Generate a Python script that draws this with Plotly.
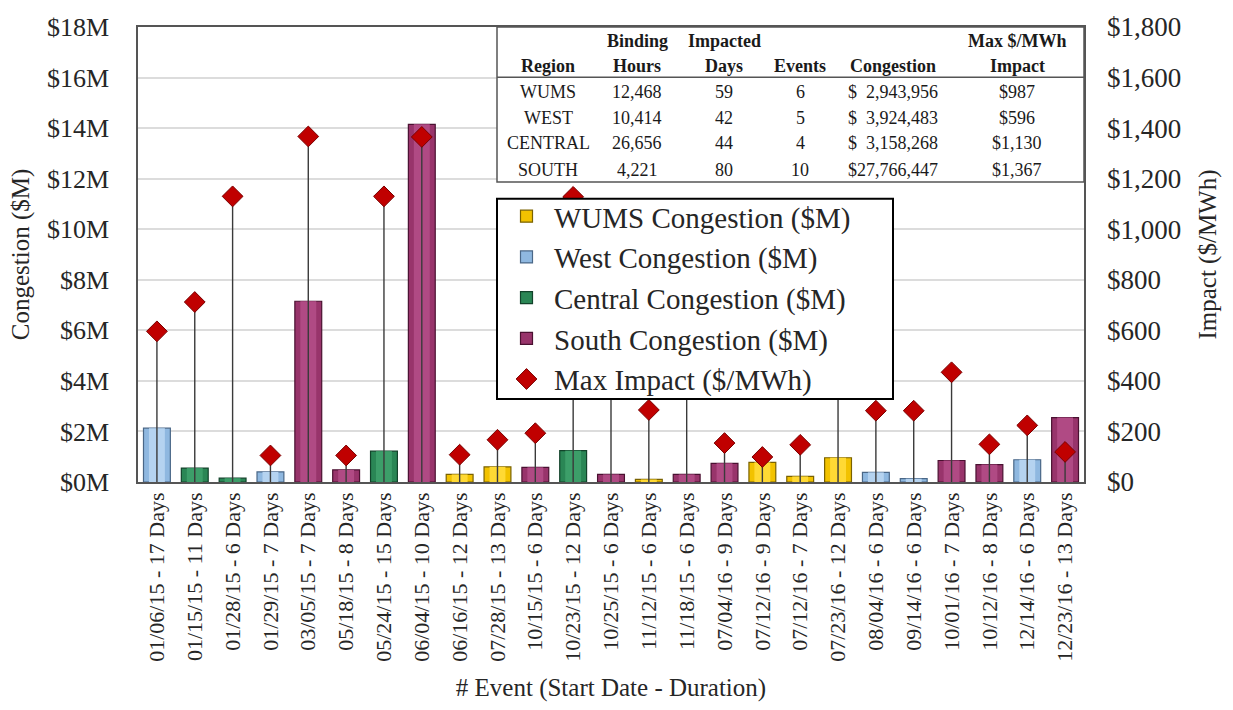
import plotly.graph_objects as go

# Congestion events: start date and duration
events = [
    "01/06/15 - 17 Days", "01/15/15 - 11 Days", "01/28/15 - 6 Days", "01/29/15 - 7 Days",
    "03/05/15 - 7 Days", "05/18/15 - 8 Days", "05/24/15 - 15 Days", "06/04/15 - 10 Days",
    "06/16/15 - 12 Days", "07/28/15 - 13 Days", "10/15/15 - 6 Days", "10/23/15 - 12 Days",
    "10/25/15 - 6 Days", "11/12/15 - 6 Days", "11/18/15 - 6 Days", "07/04/16 - 9 Days",
    "07/12/16 - 9 Days", "07/12/16 - 7 Days", "07/23/16 - 12 Days", "08/04/16 - 6 Days",
    "09/14/16 - 6 Days", "10/01/16 - 7 Days", "10/12/16 - 8 Days", "12/14/16 - 6 Days",
    "12/23/16 - 13 Days",
]
event_region = [
    "West", "Central", "Central", "West", "South", "South", "Central", "South",
    "WUMS", "WUMS", "South", "Central", "South", "WUMS", "South", "South",
    "WUMS", "WUMS", "WUMS", "West", "West", "South", "South", "West", "South",
]
# Congestion per event ($M)
congestion_m = [
    2.13, 0.55, 0.15, 0.40, 7.15, 0.48, 1.22, 14.15,
    0.30, 0.60, 0.58, 1.24, 0.30, 0.10, 0.30, 0.74,
    0.78, 0.22, 0.96, 0.38, 0.13, 0.85, 0.69, 0.88, 2.55,
]
# Max impact per event ($/MWh)
max_impact = [
    596, 712, 1130, 105, 1367, 105, 1130, 1365,
    108, 167, 193, 1128, 760, 285, 540, 154,
    99, 147, 987, 282, 282, 434, 149, 224, 119,
]

# Summary table
tbl_header_top = ["", "Binding", "Impacted", "", "", "Max $/MWh"]
tbl_header_bottom = ["Region", "Hours", "Days", "Events", "Congestion", "Impact"]
tbl_region = ["WUMS", "WEST", "CENTRAL", "SOUTH"]
tbl_hours = ["12,468", "10,414", "26,656", "4,221"]
tbl_days = ["59", "42", "44", "80"]
tbl_events = ["6", "5", "4", "10"]
tbl_congestion = ["$  2,943,956", "$  3,924,483", "$  3,158,268", "$27,766,447"]
tbl_impact = ["$987", "$596", "$1,130", "$1,367"]

regions = ["WUMS", "West", "Central", "South"]
colors = {"WUMS": "#F2C200", "West": "#8FB8E0", "Central": "#2A8655", "South": "#98346B"}
highlights = {"WUMS": "#FFD934", "West": "#B5D3F0", "Central": "#3C9E69", "South": "#B04A84"}
edges = {"WUMS": "#7A6200", "West": "#4A6787", "Central": "#12422A", "South": "#4A1131"}

FONT = "Liberation Serif"
TXT = "#262626"

# Plot area in pixels (figure is 1233 x 710)
PL, PR, PT, PB = 138, 1084, 21, 482


def px_x(x):
    return (x - PL) / (PR - PL)


def px_y(y):
    return (PB - y) / (PB - PT)


fig = go.Figure()

for r in regions:
    ys = [v if reg == r else None for v, reg in zip(congestion_m, event_region)]
    fig.add_trace(go.Bar(
        x=events, y=ys, name=f"{r} Congestion ($M)", width=0.71,
        marker=dict(color=colors[r], line=dict(color=edges[r], width=1.2)),
        legendgroup=r,
    ))
    # lighter inner face for a bevelled look
    fig.add_trace(go.Bar(
        x=events, y=ys, width=0.42, showlegend=False, hoverinfo="skip",
        marker=dict(color=highlights[r], line=dict(width=0)),
        legendgroup=r,
    ))

fig.add_trace(go.Scatter(
    x=events, y=max_impact, yaxis="y2", mode="markers", name="Max Impact ($/MWh)",
    marker=dict(symbol="diamond", size=16, color="#C00000", line=dict(color="#7A0000", width=1)),
    error_y=dict(type="data", symmetric=False, array=[0] * len(max_impact),
                 arrayminus=max_impact, thickness=1.4, width=0, color="#3A3A3A"),
    legendgroup="impact",
))

# Summary table drawn as a white box with text
tx0, tx1 = px_x(497), 1.0
ty0, ty1 = px_y(178), 1.0
col_x = [548, 637, 724, 800, 893, 1017]
row_y = [87, 113, 139, 166]
columns = [tbl_region, tbl_hours, tbl_days, tbl_events, tbl_congestion, tbl_impact]
annotations = []
for cx, top, bottom, col in zip(col_x, tbl_header_top, tbl_header_bottom, columns):
    if top:
        annotations.append(dict(x=px_x(cx), y=px_y(35), text=f"<b>{top}</b>"))
    annotations.append(dict(x=px_x(cx), y=px_y(61), text=f"<b>{bottom}</b>"))
    for ry, val in zip(row_y, col):
        annotations.append(dict(x=px_x(cx), y=px_y(ry), text=val))
for a in annotations:
    a.update(xref="paper", yref="paper", showarrow=False, xanchor="center", yanchor="middle",
             font=dict(family=FONT, size=18, color="#1a1a1a"))

shapes = [
    dict(type="rect", xref="paper", yref="paper", x0=tx0, x1=tx1, y0=ty0, y1=ty1,
         fillcolor="white", line=dict(color="#555", width=1.5), layer="above"),
    dict(type="line", xref="paper", yref="paper", x0=tx0, x1=tx1, y0=px_y(72), y1=px_y(72),
         line=dict(color="#555", width=1.5), layer="above"),
    # legend frame
    dict(type="rect", xref="paper", yref="paper", x0=px_x(497), x1=px_x(893),
         y0=px_y(398), y1=px_y(195),
         fillcolor="white", line=dict(color="black", width=2), layer="above"),
]

fig.update_layout(
    width=1233, height=710,
    margin=dict(l=PL, r=1233 - PR, t=PT, b=710 - PB),
    paper_bgcolor="white", plot_bgcolor="white",
    barmode="overlay",
    font=dict(family=FONT, color=TXT),
    xaxis=dict(
        type="category", categoryorder="array", categoryarray=events,
        range=[-0.5, len(events) - 0.5],
        tickangle=-90, tickfont=dict(size=22, family=FONT, color=TXT),
        showline=True, linecolor="#555", linewidth=1.5, mirror=True,
        showgrid=False, ticks="",
        title=dict(text="# Event (Start Date - Duration)", font=dict(size=25, family=FONT, color=TXT), standoff=18),
    ),
    yaxis=dict(
        range=[0, 18], dtick=2, tickprefix="$", ticksuffix="M",
        tickfont=dict(size=26, family=FONT, color=TXT),
        showgrid=True, gridcolor="#DCDCDC", gridwidth=1.5, zeroline=False,
        showline=True, linecolor="#555", linewidth=1.5, mirror=True,
        ticklabelstandoff=22,
        title=dict(text="Congestion ($M)", font=dict(size=25, family=FONT, color=TXT), standoff=10),
    ),
    yaxis2=dict(
        overlaying="y", side="right", range=[0, 1800], dtick=200,
        tickprefix="$", tickformat=",",
        tickfont=dict(size=27, family=FONT, color=TXT),
        showgrid=False, zeroline=False,
        ticklabelstandoff=22,
        title=dict(text="Impact ($/MWh)", font=dict(size=25, family=FONT, color=TXT), standoff=18),
    ),
    legend=dict(
        x=px_x(499), y=px_y(187), xanchor="left", yanchor="top",
        bgcolor="rgba(0,0,0,0)", borderwidth=0,
        font=dict(size=29, family=FONT, color=TXT),
        traceorder="grouped", tracegroupgap=0, itemwidth=45,
    ),
    annotations=annotations,
    shapes=shapes,
)

fig.write_html("out.html")
